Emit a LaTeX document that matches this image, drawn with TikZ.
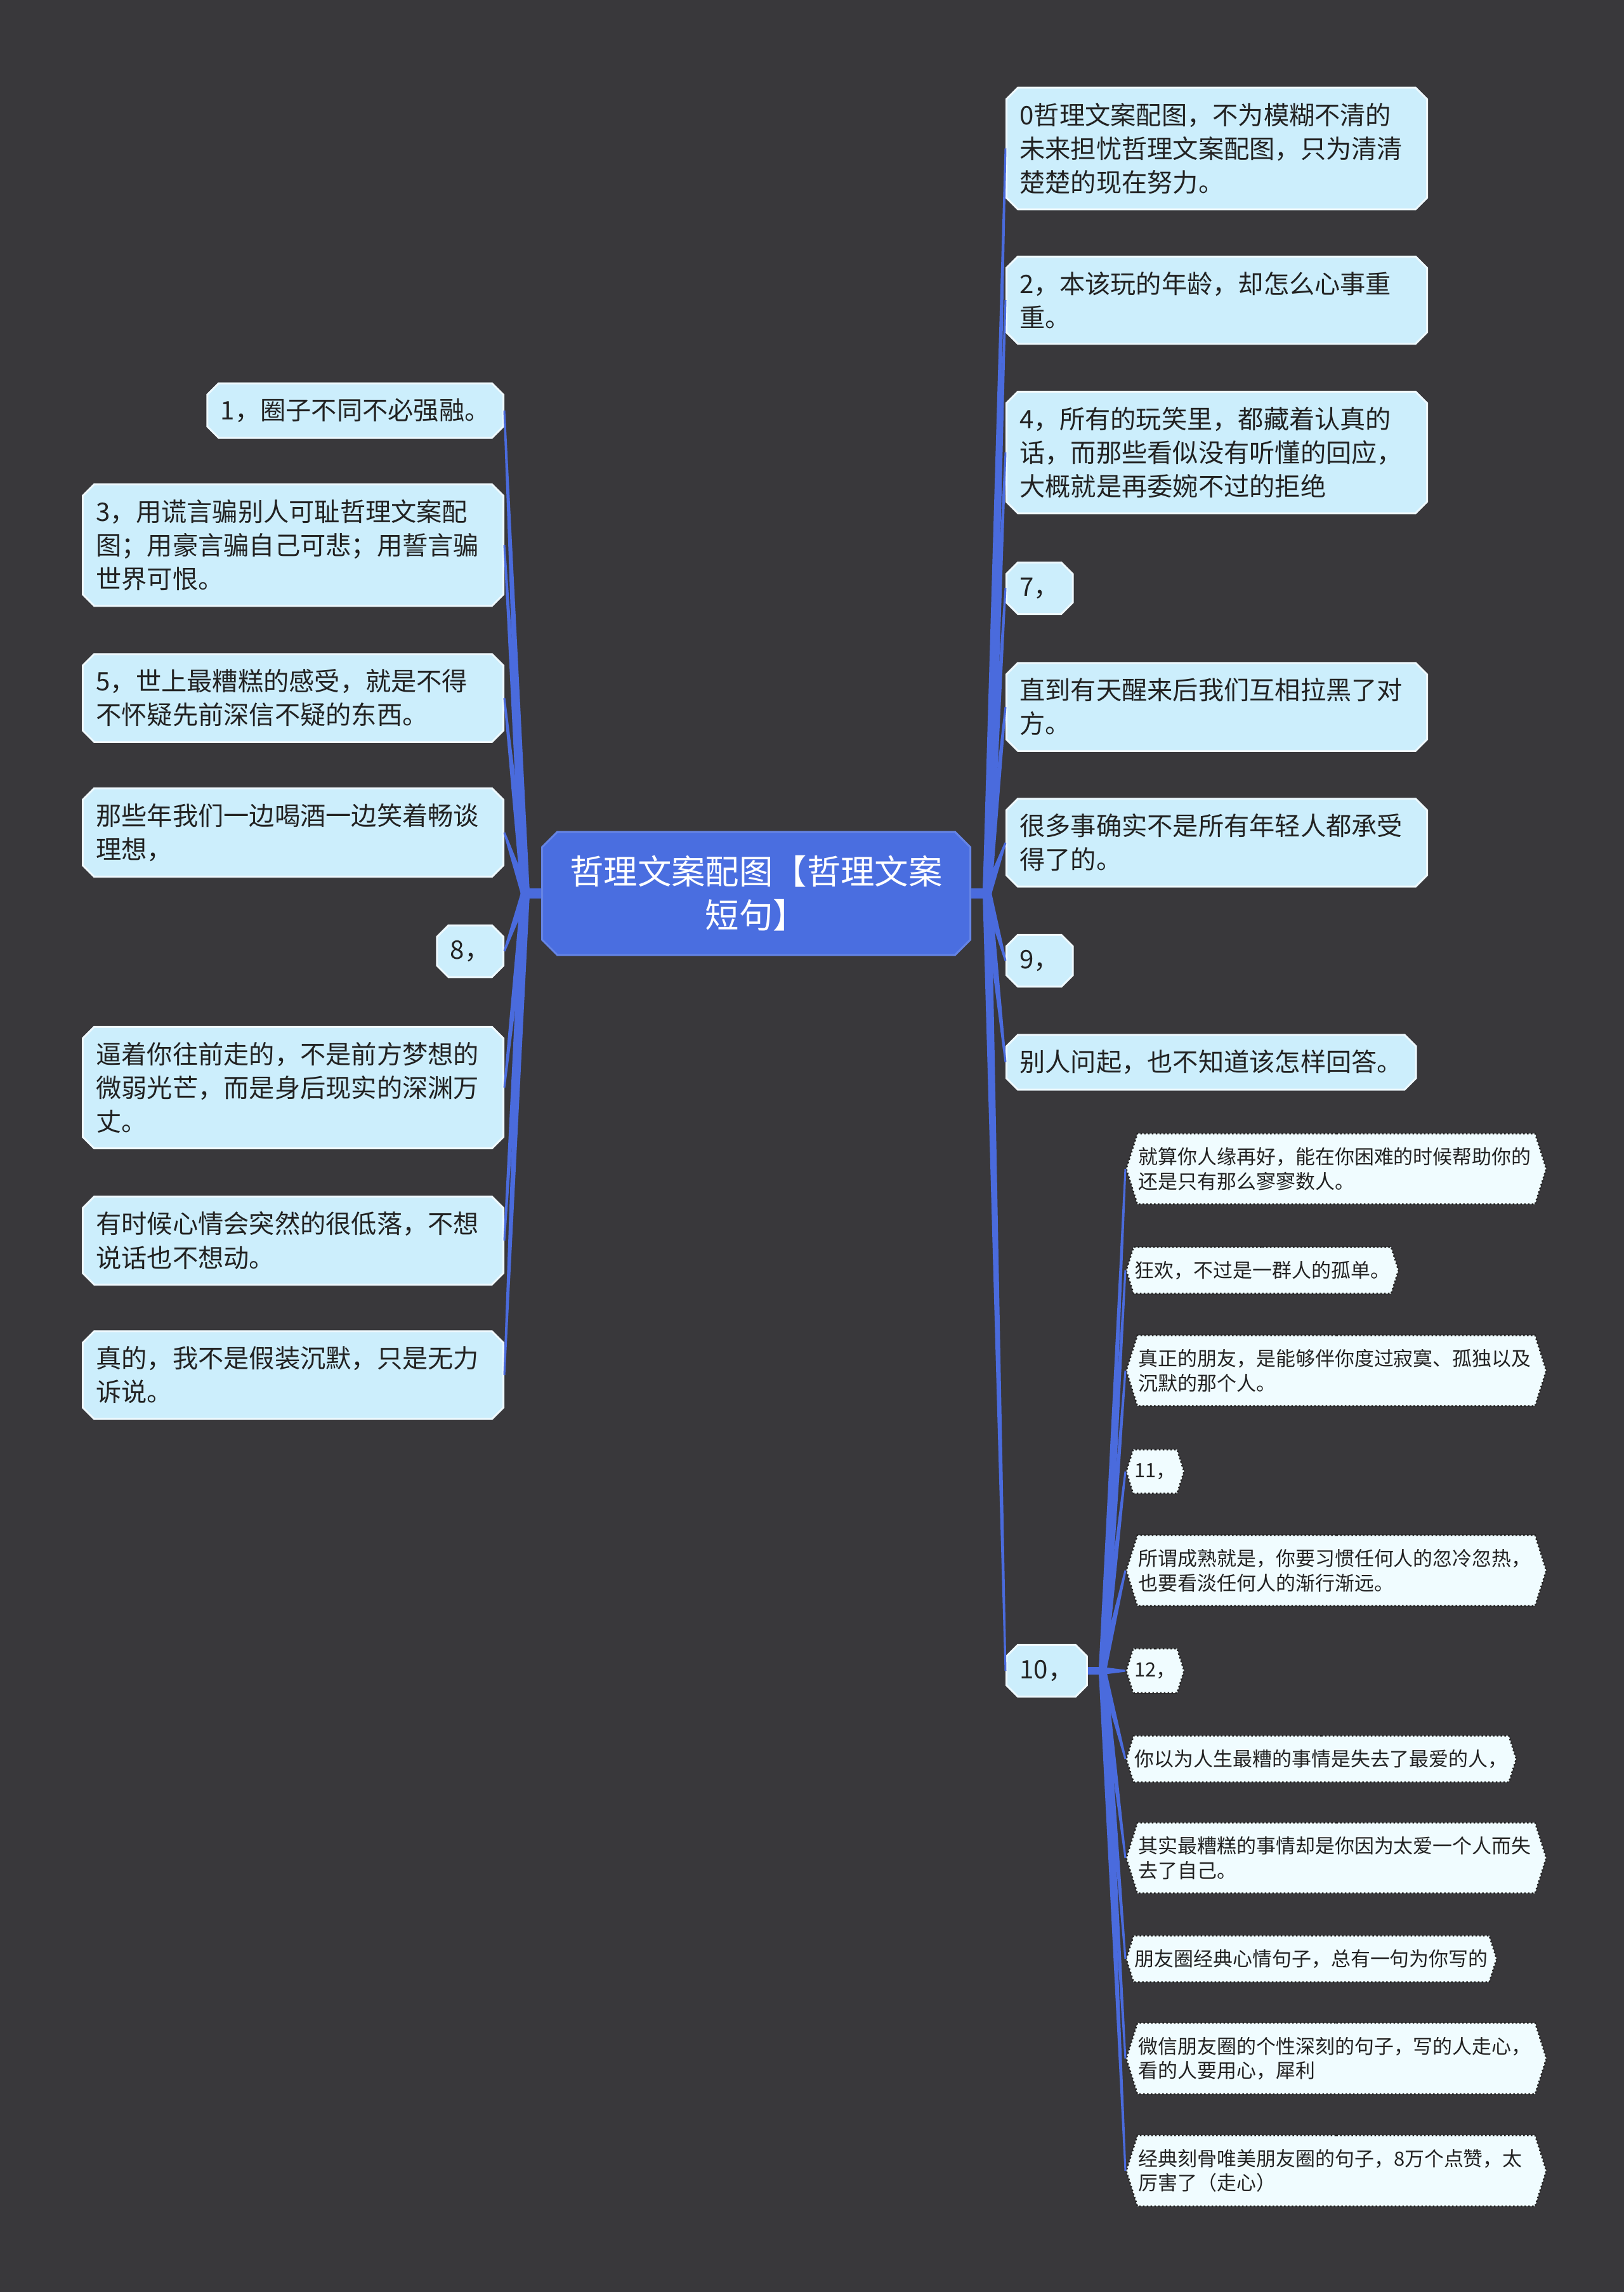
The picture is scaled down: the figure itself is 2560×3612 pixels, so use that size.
\documentclass[tikz,border=0pt]{standalone}
\usepackage{fontspec}
\setmainfont{Noto Sans CJK SC}
\usetikzlibrary{calc,shapes.misc,shapes.symbols}
\definecolor{board}{HTML}{39383B}
\definecolor{ink}{HTML}{222222}
\definecolor{rootblue}{HTML}{4A6EE0}
\definecolor{linkblue}{HTML}{4A6BDD}
\definecolor{topicfill}{HTML}{CCEEFC}
\definecolor{topicedge}{HTML}{EEF9FE}
\definecolor{leaffill}{HTML}{F0FCFF}

\begin{document}
\begin{tikzpicture}[x=0.1mm,y=-0.1mm,
  rootbox/.style={chamfered rectangle,chamfered rectangle xsep=1.2mm,
    chamfered rectangle ysep=1.2mm,fill=rootblue,draw=rootblue!85!white,
    line width=.3mm,text=white,font=\fontsize{15.2}{19.7}\selectfont,
    align=center,minimum width=67.5mm,minimum height=19.4mm},
  topic/.style={chamfered rectangle,chamfered rectangle xsep=.9mm,
    chamfered rectangle ysep=.9mm,fill=topicfill,draw=topicedge,
    line width=.3mm,text=ink,font=\fontsize{11.45}{15.1}\selectfont,
    align=left,inner xsep=1.2mm,inner ysep=1.5mm},
  longtopic/.style={topic,text width=62.1mm},
  leaf/.style={signal,signal to=west and east,signal pointer angle=145,
    fill=leaffill,draw=ink,densely dotted,line width=.25mm,text=ink,
    font=\fontsize{8.8}{11}\selectfont,align=left,
    inner xsep=.2mm,inner ysep=2.2mm},
  longleaf/.style={leaf,text width=62.3mm},
  fanfill/.style={fill=linkblue}]

  \fill[board] (0,0) rectangle (2560,3612);
  \useasboundingbox (0,0) rectangle (2560,3612);

  % central topic
  \node[rootbox] (root) at (1192,1408) {哲理文案配图【哲理文案\\短句】};
  \coordinate (lhub) at ($(root.west)+(-25,0)$);
  \coordinate (rhub) at ($(root.east)+(25,0)$);

  % left branch
  \node[topic,anchor=east] (l1) at (795,647) {1，圈子不同不必强融。};
  \node[longtopic,anchor=east] (l2) at (795,859)
    {3，用谎言骗别人可耻哲理文案配\\图；用豪言骗自己可悲；用誓言骗\\世界可恨。};
  \node[longtopic,anchor=east] (l3) at (795,1100)
    {5，世上最糟糕的感受，就是不得\\不怀疑先前深信不疑的东西。};
  \node[longtopic,anchor=east] (l4) at (795,1312)
    {那些年我们一边喝酒一边笑着畅谈\\理想，};
  \node[topic,anchor=east] (l5) at (795,1499) {8，};
  \node[longtopic,anchor=east] (l6) at (795,1714)
    {逼着你往前走的，不是前方梦想的\\微弱光芒，而是身后现实的深渊万\\丈。};
  \node[longtopic,anchor=east] (l7) at (795,1955)
    {有时候心情会突然的很低落，不想\\说话也不想动。};
  \node[longtopic,anchor=east] (l8) at (795,2167)
    {真的，我不是假装沉默，只是无力\\诉说。};

  % right branch
  \node[longtopic,anchor=west] (r1) at (1585,234)
    {0哲理文案配图，不为模糊不清的\\未来担忧哲理文案配图，只为清清\\楚楚的现在努力。};
  \node[longtopic,anchor=west] (r2) at (1585,473)
    {2，本该玩的年龄，却怎么心事重\\重。};
  \node[longtopic,anchor=west] (r3) at (1585,713)
    {4，所有的玩笑里，都藏着认真的\\话，而那些看似没有听懂的回应，\\大概就是再委婉不过的拒绝};
  \node[topic,anchor=west] (r4) at (1585,927) {7，};
  \node[longtopic,anchor=west] (r5) at (1585,1114)
    {直到有天醒来后我们互相拉黑了对\\方。};
  \node[longtopic,anchor=west] (r6) at (1585,1328)
    {很多事确实不是所有年轻人都承受\\得了的。};
  \node[topic,anchor=west] (r7) at (1585,1514) {9，};
  \node[topic,anchor=west] (r8) at (1585,1674) {别人问起，也不知道该怎样回答。};
  \node[topic,anchor=west] (r9) at (1585,2633) {10，};
  \coordinate (thub) at ($(r9.east)+(23,0)$);

  % sub-topics of 10
  \node[longleaf,anchor=west] (s1) at (1774,1842)
    {就算你人缘再好，能在你困难的时候帮助你的\\还是只有那么寥寥数人。};
  \node[leaf,anchor=west] (s2) at (1774,2002) {狂欢，不过是一群人的孤单。};
  \node[longleaf,anchor=west] (s3) at (1774,2160)
    {真正的朋友，是能够伴你度过寂寞、孤独以及\\沉默的那个人。};
  \node[leaf,anchor=west] (s4) at (1774,2319) {11，};
  \node[longleaf,anchor=west] (s5) at (1774,2475)
    {所谓成熟就是，你要习惯任何人的忽冷忽热，\\也要看淡任何人的渐行渐远。};
  \node[leaf,anchor=west] (s6) at (1774,2633) {12，};
  \node[leaf,anchor=west] (s7) at (1774,2772) {你以为人生最糟的事情是失去了最爱的人，};
  \node[longleaf,anchor=west] (s8) at (1774,2928)
    {其实最糟糕的事情却是你因为太爱一个人而失\\去了自己。};
  \node[leaf,anchor=west] (s9) at (1774,3087) {朋友圈经典心情句子，总有一句为你写的};
  \node[longleaf,anchor=west] (s10) at (1774,3244)
    {微信朋友圈的个性深刻的句子，写的人走心，\\看的人要用心，犀利};
  \node[longleaf,anchor=west] (s11) at (1774,3421)
    {经典刻骨唯美朋友圈的句子，8万个点赞，太\\厉害了（走心）};

  % connectors, tapering away from the hubs
  \draw[linkblue,line width=1.6mm] (root.west) -- (lhub);
  \draw[linkblue,line width=1.6mm] (root.east) -- (rhub);
  \draw[linkblue,line width=1.2mm] (r9.east) -- (thub);
  \foreach \n in {l1,l2,l3,l4,l5,l6,l7,l8}
    \fill[fanfill] ($(lhub)!.7mm!90:(\n.east)$) -- ($(\n.east)!.15mm!-90:(lhub)$)
      -- ($(\n.east)!.15mm!90:(lhub)$) -- ($(lhub)!.7mm!-90:(\n.east)$) -- cycle;
  \foreach \n in {r1,r2,r3,r4,r5,r6,r7,r8,r9}
    \fill[fanfill] ($(rhub)!.7mm!90:(\n.west)$) -- ($(\n.west)!.15mm!-90:(rhub)$)
      -- ($(\n.west)!.15mm!90:(rhub)$) -- ($(rhub)!.7mm!-90:(\n.west)$) -- cycle;
  \foreach \n in {s1,s2,s3,s4,s5,s6,s7,s8,s9,s10,s11}
    \fill[fanfill] ($(thub)!.6mm!90:(\n.west)$) -- ($(\n.west)!.15mm!-90:(thub)$)
      -- ($(\n.west)!.15mm!90:(thub)$) -- ($(thub)!.6mm!-90:(\n.west)$) -- cycle;
\end{tikzpicture}
\end{document}
